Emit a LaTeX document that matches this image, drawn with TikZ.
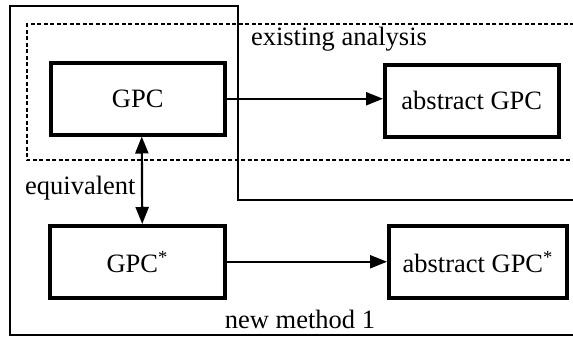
\documentclass[tikz,border=0pt]{standalone}
\usepackage{fontspec}
\setmainfont{Liberation Serif}
\usetikzlibrary{arrows.meta}
\begin{document}
\begin{tikzpicture}[x=1pt,y=-1pt,
  every node/.style={font=\fontsize{26.5}{30}\selectfont, inner sep=0pt},
  blockbox/.style={draw, line width=3.5pt, minimum width=#1, minimum height=72pt, anchor=north west},
  tip/.style={Triangle[length=17pt,width=13pt]},
  flow/.style={line width=2.2pt, -{Triangle[length=17pt,width=13pt]}},
  frame/.style={line width=2pt},
  dashframe/.style={line width=2pt, dash pattern=on 4pt off 2.5pt}]
\useasboundingbox (0,0) rectangle (573,338);
\clip (0,0) rectangle (573,338);
\fill[white] (0,0) rectangle (573,338);
% outer frame of the new method
\draw[frame] (600,200) -- (238,200) -- (238,6) -- (10,6) -- (10,335) -- (600,335);
% dashed frame of the existing analysis
\draw[dashframe] (600,24) -- (27,24) -- (27,160) -- (600,160);
% blocks
\node[blockbox=174pt] (gpc) at (49,61) {};
\node at (gpc.center) {GPC};
\node[blockbox=174pt] (agpc) at (383,63) {};
\node at (agpc.center) {abstract GPC};
\node[blockbox=175pt] (gpcs) at (48,224) {};
\node at (gpcs.center) {GPC\textsuperscript{*}};
\node[blockbox=178pt] (agpcs) at (387,224) {};
\node at (agpcs.center) {abstract GPC\textsuperscript{*}};
% connectors
\draw[flow] (gpc.east) -- (gpc.east -| agpc.west);
\draw[flow] (gpcs.east) -- (gpcs.east -| agpcs.west);
\draw[flow, {Triangle[length=17pt,width=13pt]}-{Triangle[length=17pt,width=13pt]}]
  ([xshift=4pt]gpc.south) -- ([xshift=5pt]gpcs.north);
% labels
\node[anchor=base] (lex) at (339,45) {existing analysis};
\node[anchor=base west] (leq) at (25,194) {equivalent};
\node[anchor=base] (lnm) at (300,328) {new method 1};
\end{tikzpicture}
\end{document}
